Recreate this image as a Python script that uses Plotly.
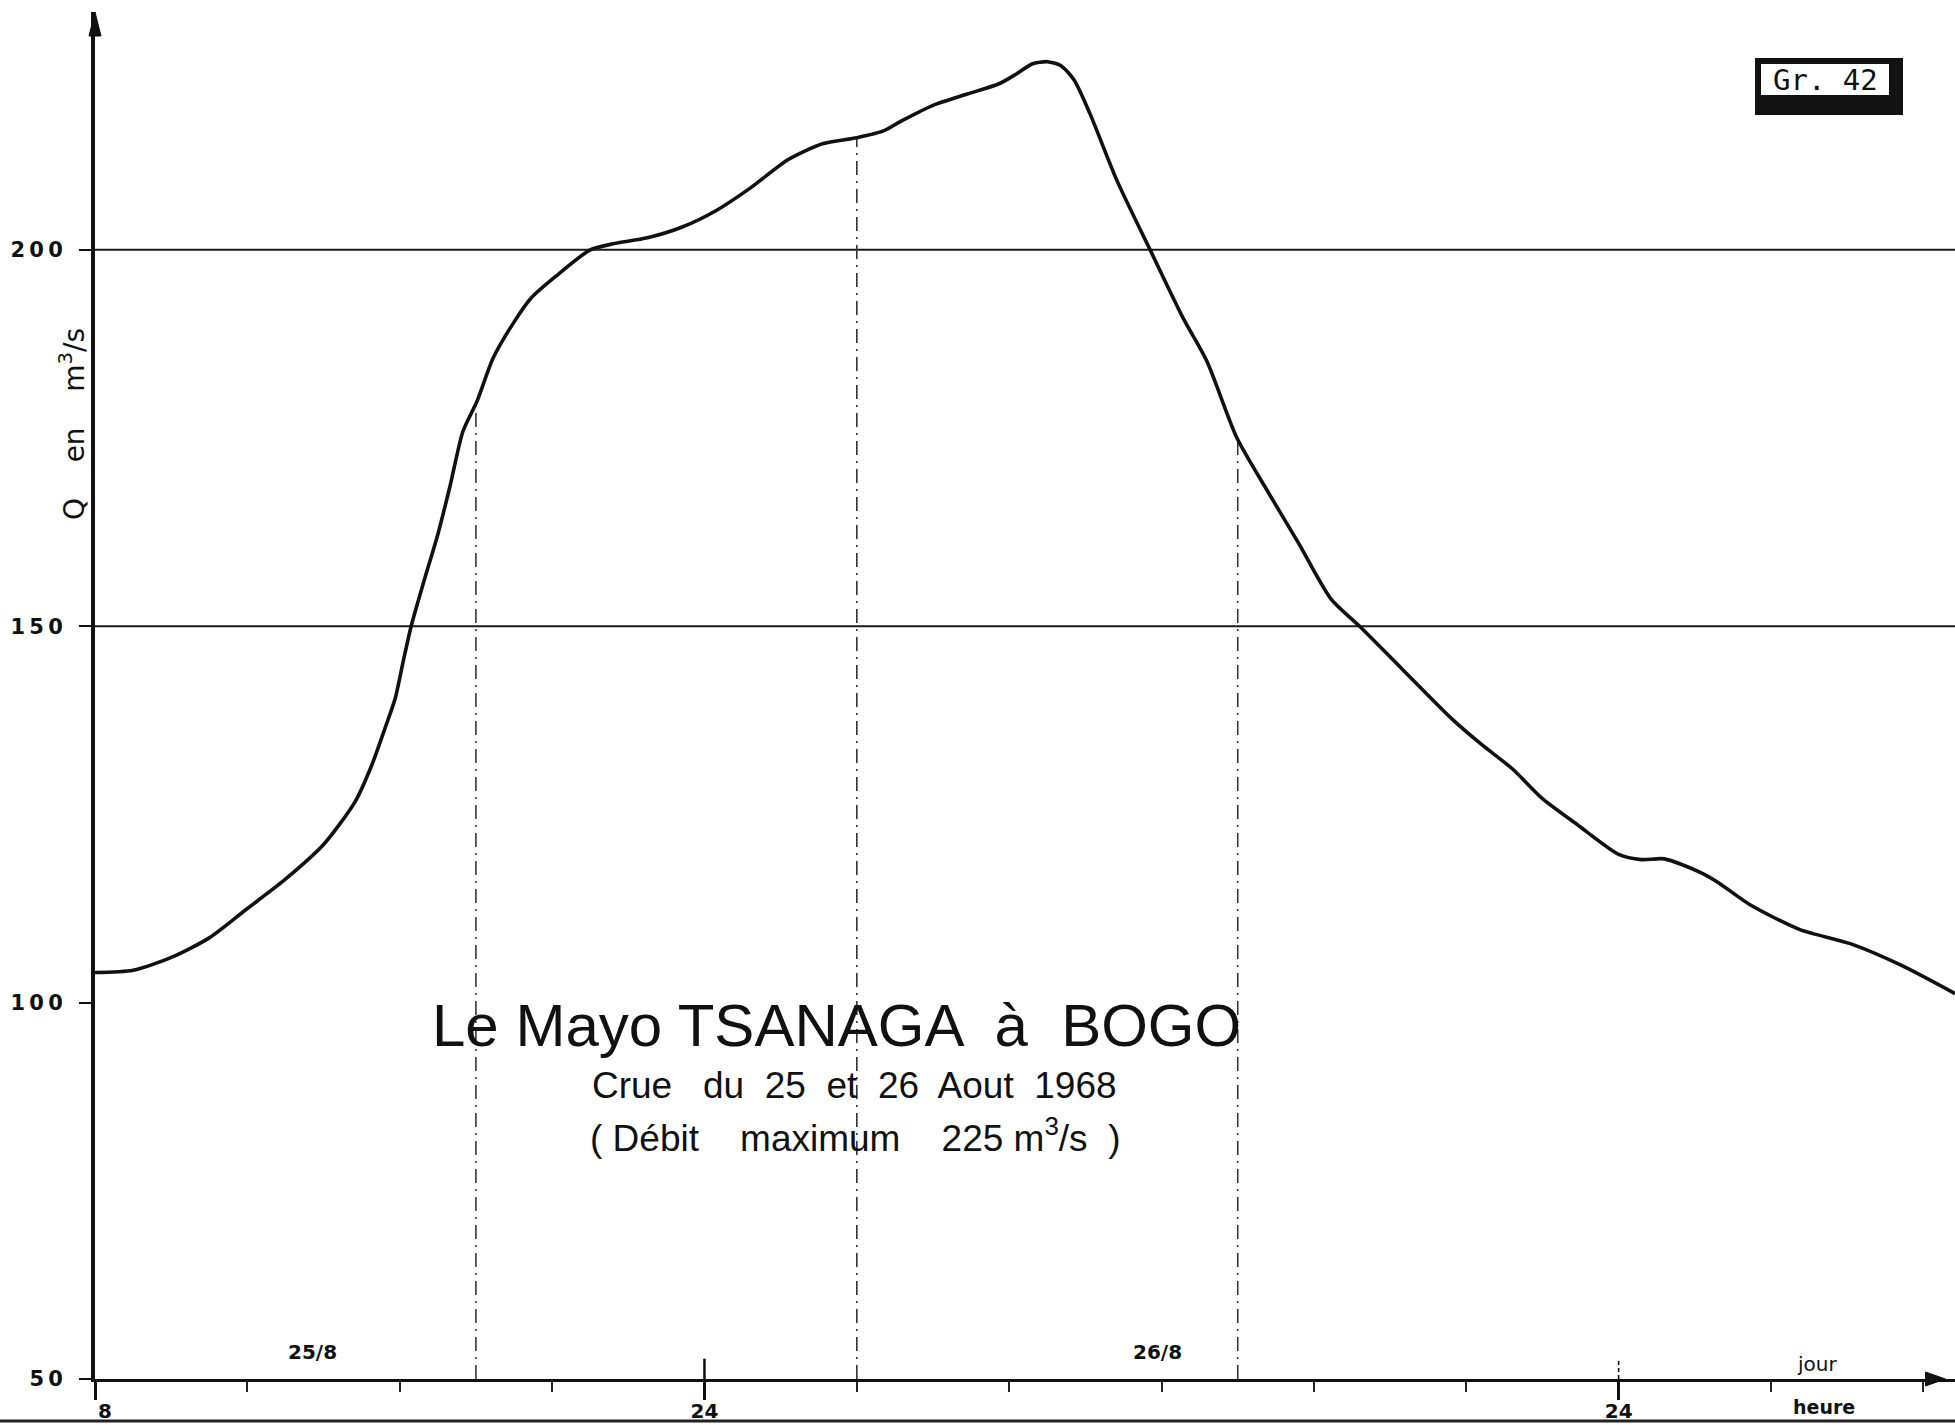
import numpy as np
import plotly.graph_objects as go

# Hydrograph of the Mayo Tsanaga at Bogo, flood of 25-26 August 1968.
# Time is counted in hours from 0 h on 25/8 (24 = midnight, 48 = end of 26/8).
hours = [8.0, 9.0, 10.0, 11.0, 12.0, 13.0, 14.0, 14.83, 15.27, 15.61, 15.88, 16.09, 16.3,
         16.66, 17.0, 17.32, 17.66, 18.03, 18.45, 19.0, 19.45, 20.1, 21.0, 21.6, 22.5,
         23.4, 24.3, 25.2, 26.2, 27.1, 28.0, 28.7, 29.2, 30.0, 30.9, 31.75, 32.2,
         32.6, 33.0, 33.35, 33.7, 34.12, 34.83, 35.7, 36.56, 37.19, 37.98,
         38.8, 39.6, 40.45, 41.2, 42.3, 43.6, 44.4, 45.2, 46.0, 46.9, 48.0, 48.6,
         49.2, 50.1, 50.6, 51.45, 52.76, 54.1, 55.4, 56.83]
flow = [104.0, 104.3, 106.0, 108.6, 112.5, 116.4, 121.0, 126.7, 131.6, 136.4, 140.4,
        145.3, 150.0, 156.4, 162.2, 168.6, 175.9, 179.9, 185.6, 190.4, 193.6, 196.5,
        200.0, 200.8, 201.6, 203.0, 205.2, 208.2, 212.0, 214.1, 214.9, 215.8, 217.2,
        219.2, 220.7, 222.1, 223.4, 224.7, 225.0, 224.5, 222.6, 218.1, 209.2, 200.0,
        191.0, 185.2, 175.0, 167.8, 161.0, 153.6, 150.0, 144.4, 137.8, 134.3, 131.1,
        127.1, 123.7, 119.7, 119.0, 119.1, 117.4, 116.0, 113.0, 109.7, 107.8, 105.0,
        101.2]

y_ticks = [50, 100, 150, 200]
y_tick_text = ["5\u20090", "1\u20090\u20090", "1\u20095\u20090", "2\u20090\u20090"]
grid_levels = [150, 200]
hour_ticks = [8, 24, 48]
hour_tick_text = ["\u2002\u20028", "24", "24"]
reading_hours = [18, 28, 38]          # dash-dot reference verticals
day_labels = ["25/8", "26/8"]
day_label_hours = [13.7, 35.9]
midnight_hours = [24, 48]

W, H = 1955, 1425
ML, MR, MT, MB = 95, 0, 12, 46
X_RANGE = [8, 56.83]
Y_RANGE = [50, 231.6]


def px_x(px):
    return (px - ML) / (W - ML - MR)


def px_y(py):
    return (H - MB - py) / (H - MT - MB)


fig = go.Figure()

fig.add_trace(go.Scatter(
    x=hours, y=flow, mode="lines",
    line=dict(color="#111111", width=3.6, shape="spline", smoothing=0.7),
    hoverinfo="skip", showlegend=False,
))

shapes = []
# horizontal reference lines
for lvl in grid_levels:
    shapes.append(dict(type="line", xref="paper", yref="y", x0=0, x1=1, y0=lvl, y1=lvl,
                       line=dict(color="#1a1a1a", width=2), layer="below"))
# dash-dot verticals from the time axis up to the hydrograph
for h in reading_hours:
    top = float(np.interp(h, hours, flow))
    shapes.append(dict(type="line", xref="x", yref="y", x0=h, x1=h, y0=Y_RANGE[0], y1=top,
                       line=dict(color="#333333", width=1.6, dash="14px,6px,2px,6px"),
                       layer="below"))
# midnight marks reaching above the time axis
for i, h in enumerate(midnight_hours):
    shapes.append(dict(type="line", xref="x", yref="y", x0=h, x1=h, y0=Y_RANGE[0], y1=52.7,
                       line=dict(color="#111111", width=2.5 if i == 0 else 1.6,
                                 dash="solid" if i == 0 else "4px,3px")))
# arrowheads closing both axes
shapes.append(dict(type="path", xref="x", yref="paper", xsizemode="pixel", ysizemode="pixel",
                   xanchor=X_RANGE[1] - 0.25, yanchor=0,
                   path="M 0,0 L -20,7 L -20,-7 Z", fillcolor="#111111",
                   line=dict(color="#111111", width=1)))
shapes.append(dict(type="path", xref="paper", yref="paper", xsizemode="pixel", ysizemode="pixel",
                   xanchor=0, yanchor=1,
                   path="M 0,0 L -6,-24 L 6,-24 Z", fillcolor="#111111",
                   line=dict(color="#111111", width=1)))
# "Gr. 42" tag with its heavy shadowed frame
shapes.append(dict(type="rect", xref="paper", yref="paper",
                   x0=px_x(1755), x1=px_x(1903), y0=px_y(115), y1=px_y(58),
                   fillcolor="#111111", line=dict(width=0)))
shapes.append(dict(type="rect", xref="paper", yref="paper",
                   x0=px_x(1761), x1=px_x(1889), y0=px_y(95), y1=px_y(64),
                   fillcolor="white", line=dict(width=0)))
# lower edge rule of the sheet
shapes.append(dict(type="line", xref="paper", yref="paper",
                   x0=px_x(0), x1=1, y0=px_y(1421), y1=px_y(1421),
                   line=dict(color="#222222", width=3)))


def label(text, x, y, size, family="DejaVu Sans", xref="paper", yref="paper", **kw):
    return dict(text=text, x=x, y=y, xref=xref, yref=yref, showarrow=False,
                xanchor="center", yanchor="middle",
                font=dict(family=family, size=size, color="#111111"), **kw)


annotations = [
    label("Le Mayo TSANAGA  à  BOGO", px_x(836), px_y(1025), 60, family="Liberation Sans"),
    label("Crue   du  25  et  26  Aout  1968", px_x(854), px_y(1085), 37,
          family="Liberation Sans"),
    label("( Débit    maximum    225 m<sup>3</sup>/s  )", px_x(855), px_y(1135), 37,
          family="Liberation Sans"),
    label("Q    en    m<sup>3</sup>/s", px_x(72), px_y(424), 28, textangle=-90),
    label("Gr. 42", px_x(1825), px_y(80), 29, family="DejaVu Sans Mono"),
    label("jour", 53.2, 52.0, 20, xref="x", yref="y"),
    label("<b>heure</b>", 53.4, px_y(1407), 19, xref="x"),
]
for lab, h in zip(day_labels, day_label_hours):
    annotations.append(label("<b>%s</b>" % lab, h, 53.6, 20, xref="x", yref="y"))

fig.update_layout(
    width=W, height=H,
    margin=dict(l=ML, r=MR, t=MT, b=MB, pad=0),
    paper_bgcolor="white", plot_bgcolor="white",
    shapes=shapes, annotations=annotations, showlegend=False,
    xaxis=dict(range=X_RANGE, showgrid=False, zeroline=False, automargin=False,
               showline=True, linecolor="#111111", linewidth=3,
               tickmode="array", tickvals=hour_ticks, ticktext=hour_tick_text,
               ticks="outside", ticklen=18, tickwidth=2.5, tickcolor="#111111",
               ticklabelstandoff=-6,
               tickfont=dict(family="DejaVu Sans", size=20, color="#111111", weight="bold"),
               minor=dict(tick0=8, dtick=4, ticks="outside", ticklen=10, tickwidth=2,
                          tickcolor="#222222", showgrid=False)),
    yaxis=dict(range=Y_RANGE, showgrid=False, zeroline=False, automargin=False,
               showline=True, linecolor="#111111", linewidth=4,
               tickmode="array", tickvals=y_ticks, ticktext=y_tick_text,
               ticks="outside", ticklen=12, tickwidth=2, tickcolor="#111111",
               ticklabelstandoff=12,
               tickfont=dict(family="DejaVu Sans", size=21, color="#111111", weight="bold")),
)

fig.write_html("out.html")
